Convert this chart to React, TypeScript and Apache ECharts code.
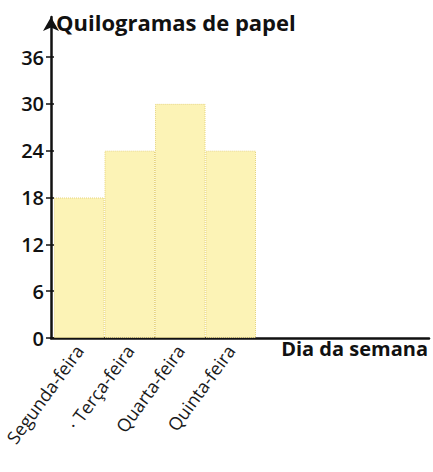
import React, { useEffect, useRef } from "react";
import * as echarts from "echarts";

const categories = ["Segunda-feira", "\u00b7 Ter\u00e7a-feira", "Quarta-feira", "Quinta-feira"];
const values = [18, 24, 30, 24];
const yTitle = "Quilogramas de papel";
const xTitle = "Dia da semana";

export default function App() {
  const ref = useRef<HTMLDivElement>(null);
  useEffect(() => {
    if (!ref.current) return;
    const chart = echarts.init(ref.current, null, { renderer: "svg" });
    const font = "'Open Sans', 'Noto Sans', sans-serif";
    chart.setOption({
      animation: false,
      textStyle: { fontFamily: font },
      grid: [
        { left: 54, width: 202, top: 57, bottom: 134 },
        { left: 51, right: 4, top: 17, bottom: 134 },
      ],
      xAxis: [
        {
          type: "category",
          gridIndex: 0,
          data: categories,
          boundaryGap: true,
          axisLine: { show: false },
          axisTick: { show: false },
          axisLabel: {
            interval: 0,
            rotate: 54,
            margin: 9,
            color: "#1a1a1a",
            fontSize: 18,
            fontFamily: font,
          },
        },
        {
          type: "value",
          gridIndex: 1,
          min: 0,
          max: 1,
          axisLine: { show: true, lineStyle: { color: "#111", width: 2.5 } },
          axisTick: { show: false },
          axisLabel: { show: false },
          splitLine: { show: false },
        },
      ],
      yAxis: [
        {
          type: "value",
          gridIndex: 0,
          min: 0,
          max: 36,
          interval: 6,
          axisLine: { show: false },
          axisTick: { show: true, length: 8, inside: false, lineStyle: { color: "#111", width: 1.5 } },
          axisLabel: { color: "#111", fontSize: 20, fontWeight: 600, margin: 10, fontFamily: font },
          splitLine: { show: false },
        },
        {
          type: "value",
          gridIndex: 1,
          min: 0,
          max: 1,
          axisLine: {
            show: true,
            symbol: ["none", "arrow"],
            symbolSize: [12, 14],
            lineStyle: { color: "#111", width: 2.5 },
          },
          axisTick: { show: false },
          axisLabel: { show: false },
          splitLine: { show: false },
        },
      ],
      series: [
        {
          type: "bar",
          xAxisIndex: 0,
          yAxisIndex: 0,
          data: values,
          barCategoryGap: "0%",
          itemStyle: {
            color: "#FCF3B6",
            borderColor: "#E6D47E",
            borderWidth: 1,
            borderType: "dotted",
          },
        },
      ],
      graphic: [
        {
          type: "text",
          left: 56,
          top: 11,
          style: {
            text: yTitle,
            fontSize: 22,
            fontWeight: "bold",
            fill: "#111",
            fontFamily: font,
          },
        },
        {
          type: "text",
          right: 5,
          top: 338,
          style: {
            text: xTitle,
            fontSize: 20,
            fontWeight: "bold",
            fill: "#111",
            fontFamily: font,
          },
        },
      ],
    });
    return () => chart.dispose();
  }, []);
  return <div ref={ref} style={{ width: 433, height: 472, position: "absolute", left: 0, top: 0, background: "#fff" }} />;
}
